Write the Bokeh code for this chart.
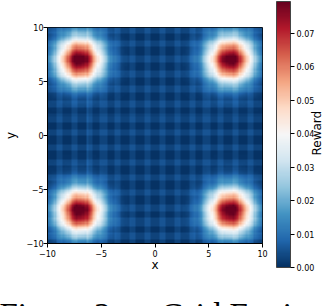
import json
import numpy as np
from bokeh.plotting import figure
from bokeh.models import (LinearColorMapper, ColorBar, FixedTicker, PrintfTickFormatter,
                          Range1d, CustomJSTickFormatter, LinearAxis, Title)
from bokeh.embed import file_html
from bokeh.resources import INLINE

# ---------------- data ----------------
x_extent = [-10.0, 10.0]
y_extent = [-10.0, 10.0]
cells_per_side = 100

peak_x = [-7.0, 7.0, -7.0, 7.0]
peak_y = [7.0, 7.0, -7.0, -7.0]
peak_height = [0.080, 0.080, 0.080, 0.080]
peak_sigma = [1.48, 1.48, 1.48, 1.48]

floor_value = 0.0005          # dark squares of the background
stripe_value = 0.0024         # each lighter stripe adds this
stripe_period = 1.37
dark_center_x0 = 0.0
dark_center_y0 = -0.47
dark_fraction = 0.55
seam_x = [-6.3]
seam_y = [2.0]
seam_value = 0.0015

tick_values = [-10, -5, 0, 5, 10]
cbar_ticks = [0.00, 0.01, 0.02, 0.03, 0.04, 0.05, 0.06, 0.07]
cbar_low = 0.0
cbar_high = 0.0796

x_label = "x"
y_label = "y"
cbar_label = "Reward"
cbar_label_start_y = [-1.85]   # where the rotated "Reward" begins (y units of the plot)
caption = "Figure 3:\u2003 Grid Environment"

rdbu_r_anchors = ["#053061", "#2166ac", "#4393c3", "#92c5de", "#d1e5f0", "#f7f7f7",
                  "#fddbc7", "#f4a582", "#d6604d", "#b2182b", "#67001f"]

# ---------------- build field ----------------
n = cells_per_side
dx = (x_extent[1] - x_extent[0]) / n
dy = (y_extent[1] - y_extent[0]) / n
xc = x_extent[0] + dx * (np.arange(n) + 0.5)
yc = y_extent[0] + dy * (np.arange(n) + 0.5)
X, Y = np.meshgrid(xc, yc)


def stripe(v, c0):
    ph = ((v - c0) / stripe_period) % 1.0
    d = np.minimum(ph, 1.0 - ph)
    return (d > dark_fraction / 2).astype(float)


Z = floor_value + stripe_value * (stripe(X, dark_center_x0) + stripe(Y, dark_center_y0))
for sx in seam_x:
    Z = Z + seam_value * (np.abs(X - sx) < dx / 2)
for sy in seam_y:
    Z = Z + seam_value * (np.abs(Y - sy) < dy / 2)
for px, py, h, s in zip(peak_x, peak_y, peak_height, peak_sigma):
    Z = Z + h * np.exp(-((X - px) ** 2 + (Y - py) ** 2) / (2 * s * s))


def hex2rgb(h):
    return [int(h[i:i + 2], 16) for i in (1, 3, 5)]


anch = np.array([hex2rgb(c) for c in rdbu_r_anchors], dtype=float)
pos = np.linspace(0, 1, len(anch))
palette = []
for tt in np.linspace(0, 1, 256):
    rgb = [int(round(np.interp(tt, pos, anch[:, k]))) for k in range(3)]
    palette.append("#%02x%02x%02x" % tuple(rgb))

mapper = LinearColorMapper(palette=palette, low=cbar_low, high=cbar_high)

# ---------------- figure ----------------
p = figure(frame_width=215, frame_height=216,
           min_border_left=42, min_border_right=73, min_border_top=27, min_border_bottom=0,
           x_range=Range1d(x_extent[0], x_extent[1]), y_range=Range1d(y_extent[0], y_extent[1]),
           output_backend="svg", toolbar_location=None)
p.background_fill_color = "white"
p.border_fill_color = "white"
p.outline_line_color = "black"
p.outline_line_width = 1
p.grid.visible = False

p.image(image=[Z], x=x_extent[0], y=y_extent[0],
        dw=x_extent[1] - x_extent[0], dh=y_extent[1] - y_extent[0], color_mapper=mapper)

fmt = CustomJSTickFormatter(code="return tick < 0 ? '\u2212' + Math.abs(tick) : String(tick);")
for ax in (p.xaxis[0], p.yaxis[0]):
    ax.ticker = FixedTicker(ticks=tick_values)
    ax.formatter = fmt
    ax.minor_tick_line_color = None
    ax.major_tick_in = 0
    ax.major_tick_out = 4
    ax.major_tick_line_color = "black"
    ax.axis_line_color = "black"
    ax.major_label_text_font = "DejaVu Sans"
    ax.major_label_text_font_size = "8px"
    ax.major_label_text_color = "black"
    ax.axis_label_text_font = "DejaVu Sans"
    ax.axis_label_text_font_size = "12px"
    ax.axis_label_text_font_style = "normal"
    ax.axis_label_text_color = "black"

p.xaxis[0].major_label_standoff = 2
p.xaxis[0].axis_label = x_label
p.xaxis[0].axis_label_standoff = -2
p.yaxis[0].major_label_standoff = 0
p.yaxis[0].axis_label = y_label
p.yaxis[0].axis_label_standoff = 6

# right-hand label for the colour bar: a single rotated label on an invisible axis
rax = LinearAxis(ticker=FixedTicker(ticks=cbar_label_start_y),
                 formatter=CustomJSTickFormatter(code="return " + json.dumps(cbar_label) + ";"),
                 axis_line_color=None, major_tick_line_color=None,
                 minor_tick_line_color=None, major_tick_out=0, major_tick_in=0,
                 major_label_standoff=55, major_label_orientation=np.pi / 2,
                 major_label_text_font="DejaVu Sans", major_label_text_font_size="12px",
                 major_label_text_font_style="normal", major_label_text_color="black")
p.add_layout(rax, "right")

# caption (cut by the window, as in the reference)
p.add_layout(Title(text="\u00a0", standoff=0, text_font_size="4px"), "below")
p.add_layout(Title(text=caption, align="left", offset=-48, standoff=26,
                   text_font="Liberation Serif", text_font_size="33px",
                   text_font_style="normal", text_color="black"), "below")

cb = ColorBar(color_mapper=mapper, location=(229, -24), width=14, height=266,
              padding=0, margin=0,
              ticker=FixedTicker(ticks=cbar_ticks), formatter=PrintfTickFormatter(format="%.2f"),
              major_tick_in=0, major_tick_out=4, major_tick_line_color="black",
              minor_tick_line_color=None, label_standoff=2,
              major_label_text_font="DejaVu Sans", major_label_text_font_size="8px",
              major_label_text_color="black",
              bar_line_color="#444444", bar_line_width=1,
              background_fill_alpha=0, border_line_color=None)
p.add_layout(cb, "center")

open("out.html", "w").write(file_html(p, INLINE))
